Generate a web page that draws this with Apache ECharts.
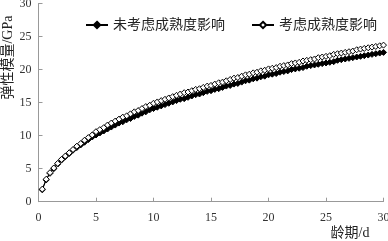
<!DOCTYPE html>
<html><head><meta charset="utf-8">
<script src="https://cdn.jsdelivr.net/npm/echarts@6/dist/echarts.min.js"></script>
<style>html,body{margin:0;padding:0;background:#fff}#c{width:388px;height:241px}</style>
</head><body><div id="c"></div>
<script>
const seriesNames = ['未考虑成熟度影响', '考虑成熟度影响'];
const days = [0.33,0.67,1,1.33,1.67,2,2.33,2.67,3,3.33,3.67,4,4.33,4.67,5,5.33,5.67,6,6.33,6.67,7,7.33,7.67,8,8.33,8.67,9,9.33,9.67,10,10.33,10.67,11,11.33,11.67,12,12.33,12.67,13,13.33,13.67,14,14.33,14.67,15,15.33,15.67,16,16.33,16.67,17,17.33,17.67,18,18.33,18.67,19,19.33,19.67,20,20.33,20.67,21,21.33,21.67,22,22.33,22.67,23,23.33,23.67,24,24.33,24.67,25,25.33,25.67,26,26.33,26.67,27,27.33,27.67,28,28.33,28.67,29,29.33,29.67,30];
const noMaturity = [1.8,3.3,4.3,5.0,5.7,6.3,6.8,7.3,7.8,8.2,
 8.6,9.0,9.4,9.8,10.1,10.4,10.7,11.0,11.3,11.6,
 11.9,12.1,12.4,12.6,12.9,13.1,13.4,13.6,13.9,14.1,
 14.3,14.5,14.7,14.9,15.1,15.3,15.5,15.6,15.8,16.0,
 16.2,16.3,16.5,16.7,16.8,17.0,17.1,17.3,17.5,17.6,
 17.8,17.9,18.1,18.3,18.4,18.6,18.7,18.9,19.0,19.2,
 19.3,19.4,19.6,19.7,19.8,20.0,20.1,20.2,20.3,20.5,
 20.6,20.7,20.8,20.9,21.0,21.1,21.2,21.4,21.5,21.6,
 21.7,21.8,21.9,22.0,22.1,22.2,22.3,22.4,22.5,22.6];
const withMaturity = [1.9,3.4,4.4,5.1,5.8,6.4,6.9,7.4,7.9,8.4,
 8.8,9.3,9.7,10.1,10.6,10.9,11.2,11.6,11.9,12.2,
 12.5,12.8,13.0,13.3,13.6,13.8,14.1,14.4,14.6,14.9,
 15.1,15.3,15.5,15.7,15.9,16.1,16.3,16.5,16.6,16.8,
 17.0,17.1,17.3,17.5,17.6,17.8,18.0,18.1,18.3,18.5,
 18.7,18.8,19.0,19.2,19.3,19.5,19.6,19.8,19.9,20.1,
 20.2,20.3,20.5,20.6,20.7,20.9,21.0,21.1,21.3,21.4,
 21.5,21.6,21.8,21.9,22.0,22.1,22.3,22.4,22.5,22.6,
 22.7,22.8,23.0,23.1,23.2,23.3,23.4,23.5,23.6,23.7];
const xTicks = [0,5,10,15,20,25,30];
const yTicks = [0,5,10,15,20,25,30];
const xName = '龄期/d';
const yName = '弹性模量/GPa';

const FONT = '"Liberation Serif", "Noto Sans CJK SC", serif';
const chart = echarts.init(document.getElementById('c'), null, {renderer: 'canvas'});
const pairs = arr => days.map((d, i) => [d, arr[i]]);
chart.setOption({
  animation: false,
  backgroundColor: '#fff',
  grid: {left: 38.5, right: 4.5, top: 3.5, bottom: 39.3, containLabel: false, outerBoundsMode: 'none'},
  legend: {
    left: 80, top: 13, itemWidth: 22, itemHeight: 8, itemGap: 26,
    textStyle: {fontFamily: FONT, fontSize: 14, color: '#222'},
    data: seriesNames
  },
  xAxis: {
    type: 'value', min: xTicks[0], max: xTicks[xTicks.length - 1], interval: 5,
    axisLine: {lineStyle: {color: '#999', width: 1}},
    axisTick: {inside: true, length: 4, lineStyle: {color: '#999'}},
    splitLine: {show: false},
    axisLabel: {fontFamily: FONT, fontSize: 12, color: '#333', margin: 10},
    name: xName, nameLocation: 'end', nameGap: -14, nameMoveOverlap: false,
    nameTextStyle: {fontFamily: FONT, fontSize: 14, color: '#222', align: 'right', verticalAlign: 'top', padding: [25, 0, 0, 0]}
  },
  yAxis: {
    type: 'value', min: yTicks[0], max: yTicks[yTicks.length - 1], interval: 5,
    axisLine: {show: true, lineStyle: {color: '#999', width: 1}},
    axisTick: {show: true, inside: true, length: 4, lineStyle: {color: '#999'}},
    splitLine: {show: false},
    axisLabel: {fontFamily: FONT, fontSize: 12, color: '#333', margin: 7},
    name: yName, nameLocation: 'middle', nameRotate: 90, nameGap: 23, nameMoveOverlap: false,
    nameTextStyle: {fontFamily: FONT, fontSize: 14, color: '#222', padding: [0, 0, 0, 90]}
  },
  series: [
    {
      name: seriesNames[0], type: 'line', data: pairs(noMaturity),
      symbol: 'diamond', symbolSize: 6, showAllSymbol: true,
      lineStyle: {color: '#000', width: 1},
      itemStyle: {color: '#000', borderColor: '#000', borderWidth: 1}
    },
    {
      name: seriesNames[1], type: 'line', data: pairs(withMaturity),
      symbol: 'diamond', symbolSize: 6, showAllSymbol: true,
      lineStyle: {color: '#000', width: 1},
      itemStyle: {color: '#fff', borderColor: '#000', borderWidth: 1}
    }
  ]
});
</script></body></html>
